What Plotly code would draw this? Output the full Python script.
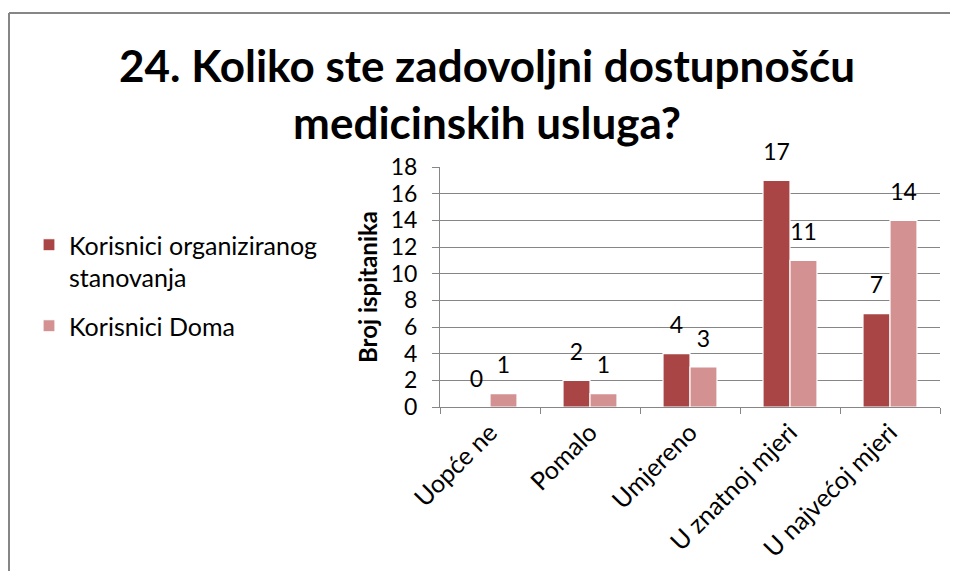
import plotly.graph_objects as go

categories = ["Uopće ne", "Pomalo", "Umjereno", "U znatnoj mjeri", "U najvećoj mjeri"]
series_names = ["Korisnici organiziranog<br>stanovanja", "Korisnici Doma"]
organizirano = [0, 2, 4, 17, 7]
dom = [1, 1, 3, 11, 14]
y_ticks = [0, 2, 4, 6, 8, 10, 12, 14, 16, 18]

colors = ["#A94545", "#D49192"]
FONT = "Lato"
FS = 23

# page body has an 8px margin; figure sized so the page fits 958x579 exactly
W, H = 942, 563
L, R, T, B = 432, 10, 159, 164
pw = W - L - R
ph = H - T - B
GAP = 0.46

fig = go.Figure()
for i, (name, vals, col) in enumerate(zip(series_names, [organizirano, dom], colors)):
    fig.add_trace(go.Bar(
        x=categories, y=vals, name=name, legendgroup=f"g{i}",
        marker=dict(color=col, line=dict(color="white", width=1.2)),
        cliponaxis=False,
    ))
for i, vals in enumerate([organizirano, dom]):
    fig.add_trace(go.Scatter(
        x=categories, y=vals, mode="markers+text", showlegend=False,
        text=[str(v) for v in vals], textposition="top center",
        textfont=dict(family=FONT, size=FS, color="#000000"),
        marker=dict(size=22, opacity=0),
        cliponaxis=False, hoverinfo="skip",
    ))


def px_x(cx):
    return (cx - L) / pw


def px_y(cy):
    return (H - cy - B) / ph


border = dict(color="#868686", width=2)

fig.update_layout(
    width=W, height=H,
    margin=dict(l=L, r=R, t=T, b=B, autoexpand=False),
    paper_bgcolor="white", plot_bgcolor="white",
    barmode="group", bargap=GAP, bargroupgap=0.0,
    scattermode="group", scattergap=GAP,
    font=dict(family=FONT, size=FS, color="#000000"),
    title=dict(
        text="<b>24. Koliko ste zadovoljni dostupnošću<br>medicinskih usluga?</b>",
        x=479 / W, xanchor="center", xref="container",
        y=1 - 74 / H, yanchor="top", yref="container",
        font=dict(family=FONT, size=44, color="#000000"),
    ),
    legend=dict(
        x=21 / W, xref="container", xanchor="left",
        y=1 - 214 / H, yref="container", yanchor="top",
        font=dict(family=FONT, size=25, color="#000000"),
        itemwidth=30, tracegroupgap=13, valign="top",
        bgcolor="rgba(0,0,0,0)",
    ),
    xaxis=dict(
        type="category", tickangle=-45, tickson="boundaries",
        ticks="outside", ticklen=6, tickcolor="#868686",
        showline=True, linecolor="#868686", linewidth=1,
        showgrid=False,
        tickfont=dict(family=FONT, size=25, color="#000000"),
    ),
    yaxis=dict(
        range=[0, 18], tickvals=y_ticks,
        ticks="outside", ticklen=7, tickcolor="#868686",
        showline=True, linecolor="#868686", linewidth=1,
        showgrid=True, gridcolor="#868686", gridwidth=1,
        zeroline=False, ticklabelstandoff=10,
        tickfont=dict(family=FONT, size=FS, color="#000000"),
        title=dict(text="<b>Broj ispitanika</b>", standoff=6,
                   font=dict(family=FONT, size=24, color="#000000")),
    ),
    shapes=[
        dict(type="line", xref="paper", yref="paper",
             x0=px_x(1), x1=px_x(W), y0=px_y(5), y1=px_y(5), line=border),
        dict(type="line", xref="paper", yref="paper",
             x0=px_x(1), x1=px_x(1), y0=px_y(5), y1=px_y(H), line=border),
    ],
)

fig.write_html("out.html", config={"displayModeBar": False})
